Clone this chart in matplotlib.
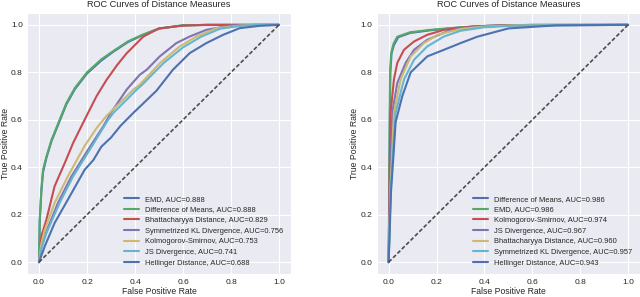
"""ROC curves of distance measures, two panels side by side."""

import matplotlib
matplotlib.use("Agg")
import matplotlib.pyplot as plt
import seaborn as sns

# old seaborn "deep" palette (6 colours, cycle repeats)
DEEP = ["#4C72B0", "#55A868", "#C44E52", "#8172B2", "#CCB974", "#64B5CD"]

# ---- left panel ----
left_labels = [
    "EMD, AUC=0.888",
    "Difference of Means, AUC=0.888",
    "Bhattacharyya Distance, AUC=0.829",
    "Symmetrized KL Divergence, AUC=0.756",
    "Kolmogorov-Smirnov, AUC=0.753",
    "JS Divergence, AUC=0.741",
    "Hellinger Distance, AUC=0.688",
]

left_emd_fpr = [0, 0.003, 0.01, 0.017, 0.031, 0.052, 0.086, 0.114, 0.15, 0.2, 0.26, 0.31, 0.37, 0.43, 0.5, 0.6, 0.7, 1]
left_emd_tpr = [0, 0.17, 0.3, 0.38, 0.44, 0.51, 0.595, 0.665, 0.73, 0.795, 0.85, 0.887, 0.927, 0.956, 0.984, 0.998, 1, 1]

left_dom_fpr = [0, 0.003, 0.01, 0.017, 0.031, 0.052, 0.086, 0.114, 0.15, 0.2, 0.26, 0.31, 0.37, 0.43, 0.5, 0.6, 0.7, 1]
left_dom_tpr = [0, 0.18, 0.31, 0.39, 0.445, 0.515, 0.60, 0.67, 0.735, 0.80, 0.855, 0.89, 0.93, 0.958, 0.985, 0.998, 1, 1]

left_bha_fpr = [0, 0.01, 0.031, 0.065, 0.107, 0.142, 0.19, 0.24, 0.282, 0.325, 0.365, 0.435, 0.5, 0.6, 0.7, 1]
left_bha_tpr = [0, 0.11, 0.18, 0.32, 0.417, 0.502, 0.60, 0.70, 0.769, 0.83, 0.88, 0.951, 0.985, 0.997, 1, 1]

left_skl_fpr = [0, 0.01, 0.031, 0.079, 0.135, 0.204, 0.267, 0.30, 0.365, 0.42, 0.449, 0.503, 0.572, 0.628, 0.697, 0.795, 0.9, 1]
left_skl_tpr = [0, 0.06, 0.13, 0.25, 0.361, 0.473, 0.571, 0.63, 0.727, 0.79, 0.811, 0.867, 0.923, 0.951, 0.979, 0.997, 1, 1]

left_ks_fpr = [0, 0.008, 0.024, 0.065, 0.12, 0.19, 0.24, 0.28, 0.393, 0.42, 0.504, 0.586, 0.656, 0.739, 0.836, 0.92, 1]
left_ks_tpr = [0, 0.07, 0.137, 0.25, 0.361, 0.49, 0.565, 0.615, 0.727, 0.748, 0.839, 0.909, 0.951, 0.986, 0.997, 1, 1]

left_js_fpr = [0, 0.01, 0.031, 0.086, 0.142, 0.211, 0.288, 0.31, 0.407, 0.43, 0.52, 0.6, 0.675, 0.755, 0.85, 0.93, 1]
left_js_tpr = [0, 0.06, 0.123, 0.25, 0.361, 0.473, 0.60, 0.629, 0.727, 0.748, 0.84, 0.905, 0.95, 0.984, 0.997, 1, 1]

left_hel_fpr = [0, 0.024, 0.065, 0.12, 0.19, 0.227, 0.26, 0.30, 0.34, 0.393, 0.489, 0.558, 0.628, 0.697, 0.767, 0.836, 0.92, 1]
left_hel_tpr = [0, 0.067, 0.165, 0.263, 0.389, 0.431, 0.487, 0.525, 0.575, 0.629, 0.722, 0.811, 0.881, 0.923, 0.958, 0.986, 0.996, 1]

# ---- right panel ----
right_labels = [
    "Difference of Means, AUC=0.986",
    "EMD, AUC=0.986",
    "Kolmogorov-Smirnov, AUC=0.974",
    "JS Divergence, AUC=0.967",
    "Bhattacharyya Distance, AUC=0.960",
    "Symmetrized KL Divergence, AUC=0.957",
    "Hellinger Distance, AUC=0.943",
]

right_dom_fpr = [0, 0.003, 0.005, 0.007, 0.012, 0.022, 0.04, 0.09, 0.18, 0.3, 0.42, 0.6, 1]
right_dom_tpr = [0, 0.3, 0.6, 0.8, 0.88, 0.915, 0.948, 0.966, 0.978, 0.989, 0.996, 1, 1]

right_emd_fpr = [0, 0.002, 0.004, 0.006, 0.01, 0.02, 0.036, 0.09, 0.175, 0.3, 0.41, 0.6, 1]
right_emd_tpr = [0, 0.3, 0.6, 0.8, 0.88, 0.92, 0.95, 0.969, 0.979, 0.99, 0.996, 1, 1]

right_ks_fpr = [0, 0.003, 0.008, 0.022, 0.036, 0.064, 0.106, 0.161, 0.231, 0.35, 0.5, 1]
right_ks_tpr = [0, 0.3, 0.63, 0.77, 0.84, 0.895, 0.93, 0.958, 0.979, 0.993, 0.999, 1]

right_js_fpr = [0, 0.005, 0.015, 0.036, 0.071, 0.106, 0.161, 0.25, 0.35, 0.5, 1]
right_js_tpr = [0, 0.3, 0.63, 0.755, 0.84, 0.895, 0.937, 0.975, 0.99, 0.998, 1]

right_bha_fpr = [0, 0.007, 0.022, 0.05, 0.092, 0.147, 0.203, 0.3, 0.4, 0.55, 1]
right_bha_tpr = [0, 0.3, 0.63, 0.77, 0.867, 0.923, 0.958, 0.983, 0.993, 0.999, 1]

right_skl_fpr = [0, 0.008, 0.029, 0.064, 0.106, 0.161, 0.231, 0.3, 0.4, 0.55, 1]
right_skl_tpr = [0, 0.3, 0.63, 0.77, 0.853, 0.909, 0.951, 0.975, 0.99, 0.998, 1]

right_hel_fpr = [0, 0.01, 0.02, 0.029, 0.057, 0.092, 0.161, 0.231, 0.30, 0.37, 0.5, 0.7, 1]
right_hel_tpr = [0, 0.3, 0.45, 0.59, 0.70, 0.80, 0.867, 0.895, 0.923, 0.95, 0.985, 0.998, 1]

axis_ticks = [0.0, 0.2, 0.4, 0.6, 0.8, 1.0]


sns.set_style("darkgrid")
plt.rcParams["font.family"] = ["Liberation Sans", "DejaVu Sans"]
plt.rcParams["xtick.major.pad"] = 3.5
plt.rcParams["ytick.major.pad"] = 3


def draw_panel(ax, curves, labels):
    for i, ((fpr, tpr), lab) in enumerate(zip(curves, labels)):
        ax.plot(fpr, tpr, color=DEEP[i % len(DEEP)], lw=1.5, label=lab)
    ax.plot([0, 1], [0, 1], color="0.3", lw=1.2, linestyle=(0, (2.4, 1.3)))
    ax.set_xticks(axis_ticks)
    ax.set_yticks(axis_ticks)
    ax.tick_params(labelsize=6.0, colors="0.15", length=0)
    ax.set_xlabel("False Positive Rate", fontsize=6.2, labelpad=1.0, color="0.15")
    ax.set_ylabel("True Positive Rate", fontsize=6.2, labelpad=1.0, color="0.15")
    ax.set_title("ROC Curves of Distance Measures", fontsize=6.6, pad=4, color="0.15")
    ax.legend(loc="lower right", fontsize=5.4, frameon=False,
              handlelength=1.9, handletextpad=0.9, labelspacing=0.45, borderaxespad=0.6)


fig = plt.figure(figsize=(6.4, 2.97), dpi=100)
ax1 = fig.add_axes([0.0422, 0.0774, 0.4125, 0.8788])
ax2 = fig.add_axes([0.5886, 0.0774, 0.4114, 0.8788])

left_curves = [
    (left_emd_fpr, left_emd_tpr),
    (left_dom_fpr, left_dom_tpr),
    (left_bha_fpr, left_bha_tpr),
    (left_skl_fpr, left_skl_tpr),
    (left_ks_fpr, left_ks_tpr),
    (left_js_fpr, left_js_tpr),
    (left_hel_fpr, left_hel_tpr),
]
right_curves = [
    (right_dom_fpr, right_dom_tpr),
    (right_emd_fpr, right_emd_tpr),
    (right_ks_fpr, right_ks_tpr),
    (right_js_fpr, right_js_tpr),
    (right_bha_fpr, right_bha_tpr),
    (right_skl_fpr, right_skl_tpr),
    (right_hel_fpr, right_hel_tpr),
]

draw_panel(ax1, left_curves, left_labels)
draw_panel(ax2, right_curves, right_labels)

fig.savefig("out.png", dpi=100)
